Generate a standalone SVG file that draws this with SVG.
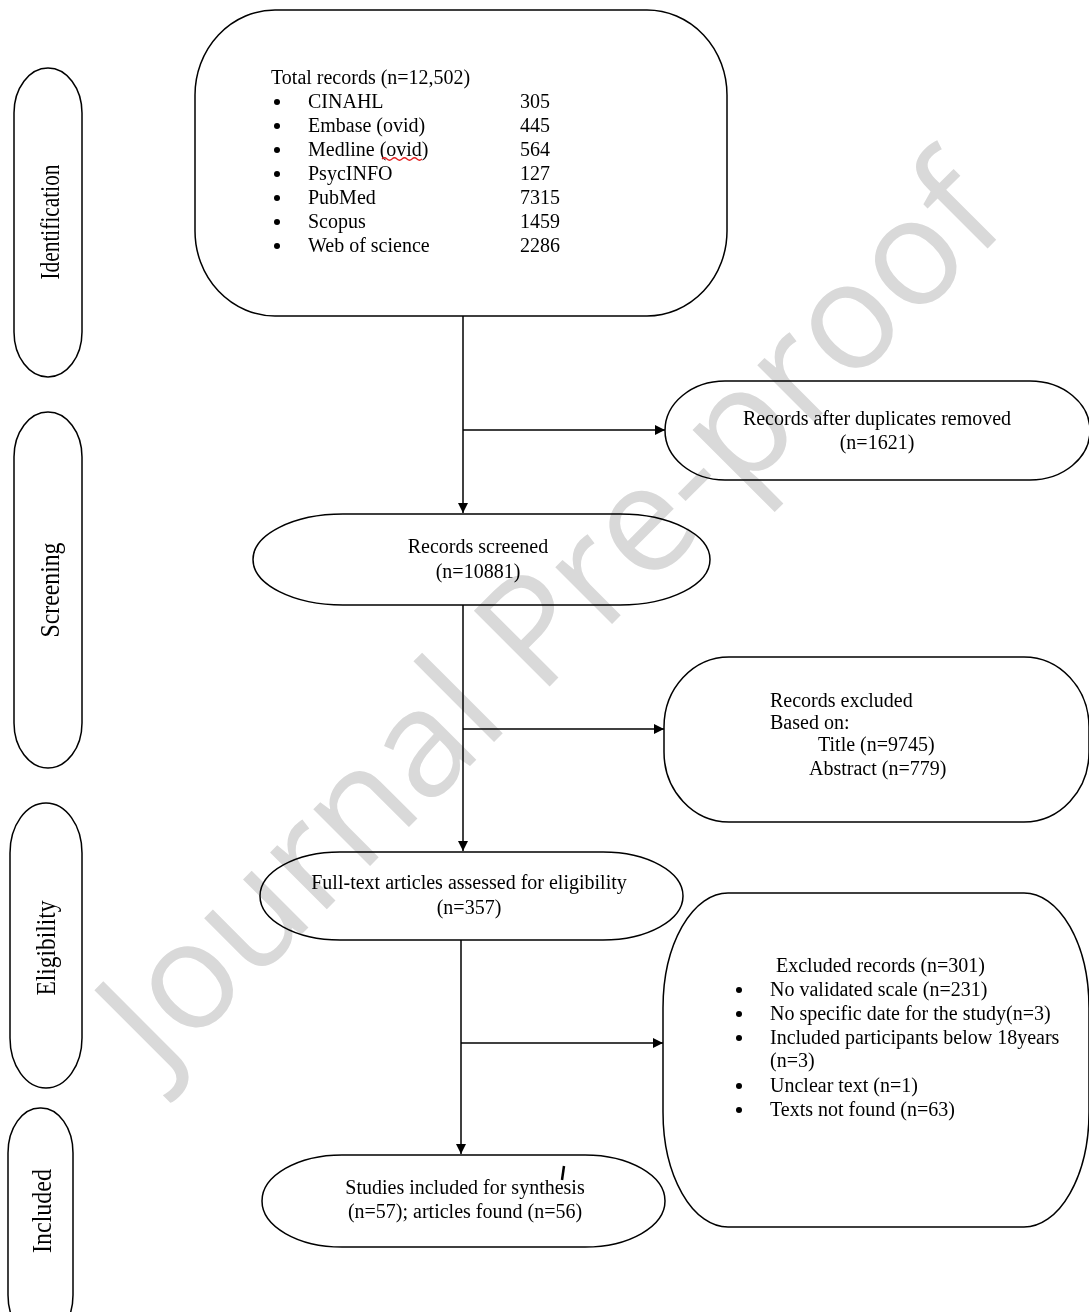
<svg xmlns="http://www.w3.org/2000/svg" width="1089" height="1312" viewBox="0 0 1089 1312">
<style>
.box{fill:#fff;stroke:#000;stroke-width:1.5}
.t{font-family:"Liberation Serif","Times New Roman",serif;font-size:20px;fill:#000}
.m{text-anchor:middle}
.side{font-family:"Liberation Serif","Times New Roman",serif;font-size:28px;fill:#000;text-anchor:middle}
.ln{stroke:#000;stroke-width:1.5;fill:none}
.wm{font-family:"Open Sans","Liberation Sans",sans-serif;font-size:150px;fill:#d9d9d9;text-anchor:middle;mix-blend-mode:multiply}
</style>
<defs>
<marker id="ah" viewBox="0 0 10 10" refX="10" refY="5" markerWidth="10" markerHeight="10" markerUnits="userSpaceOnUse" orient="auto">
<path d="M0,0 L10,5 L0,10 z" fill="#000"/>
</marker>
</defs>
<rect width="1089" height="1312" fill="#fff"/>

<g id="stage-identification">
<rect class="box" x="14" y="68" width="68" height="309" rx="34" ry="45"/>
<text class="side" transform="translate(59,222) rotate(-90)" textLength="115" lengthAdjust="spacingAndGlyphs">Identification</text>
</g>
<g id="stage-screening">
<rect class="box" x="14" y="412" width="68" height="356" rx="34" ry="45"/>
<text class="side" transform="translate(59,590) rotate(-90)" textLength="95" lengthAdjust="spacingAndGlyphs">Screening</text>
</g>
<g id="stage-eligibility">
<rect class="box" x="10" y="803" width="72" height="285" rx="36" ry="50"/>
<text class="side" transform="translate(55,948) rotate(-90)" textLength="95" lengthAdjust="spacingAndGlyphs">Eligibility</text>
</g>
<g id="stage-included">
<rect class="box" x="8" y="1108" width="65" height="232" rx="32" ry="45"/>
<text class="side" transform="translate(51,1211) rotate(-90)" textLength="84" lengthAdjust="spacingAndGlyphs">Included</text>
</g>

<g id="connectors">
<line class="ln" x1="463" y1="316" x2="463" y2="513" marker-end="url(#ah)"/>
<line class="ln" x1="463" y1="430" x2="665" y2="430" marker-end="url(#ah)"/>
<line class="ln" x1="463" y1="605" x2="463" y2="851" marker-end="url(#ah)"/>
<line class="ln" x1="463" y1="729" x2="664" y2="729" marker-end="url(#ah)"/>
<line class="ln" x1="461" y1="940" x2="461" y2="1154" marker-end="url(#ah)"/>
<line class="ln" x1="461" y1="1043" x2="663" y2="1043" marker-end="url(#ah)"/>
</g>

<g id="total-records">
<rect class="box" x="195" y="10" width="532" height="306" rx="80" ry="85"/>
<text class="t" x="271" y="84">Total records (n=12,502)</text>
<g fill="#000">
<circle cx="277" cy="102" r="3"/><circle cx="277" cy="126" r="3"/><circle cx="277" cy="150" r="3"/><circle cx="277" cy="174" r="3"/><circle cx="277" cy="198" r="3"/><circle cx="277" cy="222" r="3"/><circle cx="277" cy="246" r="3"/>
</g>
<text class="t" x="308" y="108">CINAHL</text><text class="t" x="520" y="108">305</text>
<text class="t" x="308" y="132">Embase (ovid)</text><text class="t" x="520" y="132">445</text>
<text class="t" x="308" y="156">Medline (ovid)</text><text class="t" x="520" y="156">564</text>
<text class="t" x="308" y="180">PsycINFO</text><text class="t" x="520" y="180">127</text>
<text class="t" x="308" y="204">PubMed</text><text class="t" x="520" y="204">7315</text>
<text class="t" x="308" y="228">Scopus</text><text class="t" x="520" y="228">1459</text>
<text class="t" x="308" y="252">Web of science</text><text class="t" x="520" y="252">2286</text>
<path d="M382,159 q2.5,-2.5 5,0 t5,0 t5,0 t5,0 t5,0 t5,0 t5,0 t5,0" fill="none" stroke="#e02020" stroke-width="1.2"/>
</g>

<g id="duplicates-removed">
<rect class="box" x="665" y="381" width="425" height="99" rx="60" ry="49.5"/>
<text class="t m" x="877" y="425">Records after duplicates removed</text>
<text class="t m" x="877" y="449">(n=1621)</text>
</g>

<g id="records-screened">
<rect class="box" x="253" y="514" width="457" height="91" rx="90" ry="45.5"/>
<text class="t m" x="478" y="553">Records screened</text>
<text class="t m" x="478" y="578">(n=10881)</text>
</g>

<g id="records-excluded">
<rect class="box" x="664" y="657" width="425" height="165" rx="65" ry="70"/>
<text class="t" x="770" y="707">Records excluded</text>
<text class="t" x="770" y="729">Based on:</text>
<text class="t" x="818" y="751">Title (n=9745)</text>
<text class="t" x="809" y="775">Abstract (n=779)</text>
</g>

<g id="full-text">
<rect class="box" x="260" y="852" width="423" height="88" rx="80" ry="44"/>
<text class="t m" x="469" y="889">Full-text articles assessed for eligibility</text>
<text class="t m" x="469" y="914">(n=357)</text>
</g>

<g id="excluded-records">
<rect class="box" x="663" y="893" width="426" height="334" rx="65" ry="115"/>
<text class="t" x="776" y="972">Excluded records (n=301)</text>
<g fill="#000">
<circle cx="739" cy="990" r="3"/><circle cx="739" cy="1014" r="3"/><circle cx="739" cy="1038" r="3"/><circle cx="739" cy="1086" r="3"/><circle cx="739" cy="1110" r="3"/>
</g>
<text class="t" x="770" y="996">No validated scale (n=231)</text>
<text class="t" x="770" y="1020">No specific date for the study(n=3)</text>
<text class="t" x="770" y="1044">Included participants below 18years</text>
<text class="t" x="770" y="1067">(n=3)</text>
<text class="t" x="770" y="1092">Unclear  text (n=1)</text>
<text class="t" x="770" y="1116">Texts not found (n=63)</text>
</g>

<g id="studies-included">
<rect class="box" x="262" y="1155" width="403" height="92" rx="80" ry="46"/>
<text class="t m" x="465" y="1194">Studies included for synthesis</text>
<text class="t m" x="465" y="1218">(n=57); articles found (n=56)</text>
<line x1="564" y1="1166" x2="562" y2="1180" stroke="#000" stroke-width="2.5"/>
</g>

<text class="wm" x="586" y="650" transform="rotate(-45 586 650)">Journal Pre-proof</text>
</svg>
